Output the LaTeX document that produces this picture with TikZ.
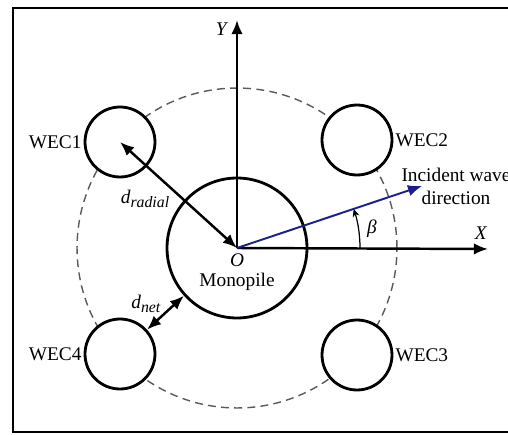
\documentclass[tikz,border=0pt]{standalone}
\usepackage{fontspec}
\setmainfont{Liberation Serif}
\usetikzlibrary{arrows.meta}
\definecolor{wave}{RGB}{28,30,140}
\definecolor{dashgray}{RGB}{90,90,90}
\begin{document}
\begin{tikzpicture}[x=0.02cm,y=0.02cm,
  every node/.style={font=\fontsize{11}{13}\selectfont},
  frameline/.style={line width=1.6pt},
  body/.style={circle,draw,line width=1.6pt,fill=white,inner sep=0pt},
  axisline/.style={line width=1.4pt,-{Latex[length=8pt,width=6.5pt]}},
  dim/.style={line width=1.4pt,{Latex[length=8pt,width=6.5pt]}-{Latex[length=8pt,width=6.5pt]}},
  orbit/.style={circle,draw=dashgray,line width=0.8pt,dash pattern=on 4.5pt off 3pt,inner sep=0pt},
  lbl/.style={inner sep=1pt}]
\useasboundingbox (0,0) rectangle (508,434);
\draw[frameline] (510,426) -- (13,426) -- (13,2) -- (510,2);
\coordinate (O) at (237,186);
\node[orbit,minimum size=6.4cm] (ring) at (O) {};
\node[body,minimum size=2.8cm] (mono) at (O) {};
\node[body,minimum size=1.4cm] (w1) at (120,292) {};
\node[body,minimum size=1.4cm] (w2) at (357,294) {};
\node[body,minimum size=1.4cm] (w3) at (357,79) {};
\node[body,minimum size=1.4cm] (w4) at (120,80) {};
\coordinate (xtip) at (488,185);
\coordinate (ytip) at (237,414);
\coordinate (wtip) at (422,248);
\draw[axisline] (O) -- (xtip);
\draw[axisline] (O) -- (ytip);
\draw[line width=1.1pt,wave,-{Latex[length=8pt,width=6.5pt]}] (O) -- (wtip);
\draw[line width=0.7pt,-{Stealth[length=4.5pt,width=4pt]}] ([shift={(123,0)}]O) arc[start angle=0,end angle=18.5,radius=123];
\draw[dim] (w1.center) -- (O);
\draw[dim] (w4.42) -- (mono.222);
\node[lbl,anchor=east] (l1) at (w1.west) {WEC1};
\node[lbl,anchor=west] (l2) at (w2.east) {WEC2};
\node[lbl,anchor=west] (l3) at (w3.east) {WEC3};
\node[lbl,anchor=east] (l4) at (w4.west) {WEC4};
\node[inner sep=0pt] (olbl) at (237,174) {\textit{O}};
\node[inner sep=0pt] (mlbl) at (237,152) {Monopile};
\node[lbl] (xl) at (481,201) {\textit{X}};
\node[lbl] (yl) at (222,405) {\textit{Y}};
\node[lbl] (bl) at (372,205) {\textit{β}};
\node[lbl,align=center] (wl) at (456,248) {Incident wave\\direction};
\node[lbl] (dr) at (145,235) {\textit{d}\raisebox{-0.5ex}{\small\textit{radial}}};
\node[lbl] (dn) at (146,130) {\textit{d}\raisebox{-0.5ex}{\small\textit{net}}};
\end{tikzpicture}
\end{document}
